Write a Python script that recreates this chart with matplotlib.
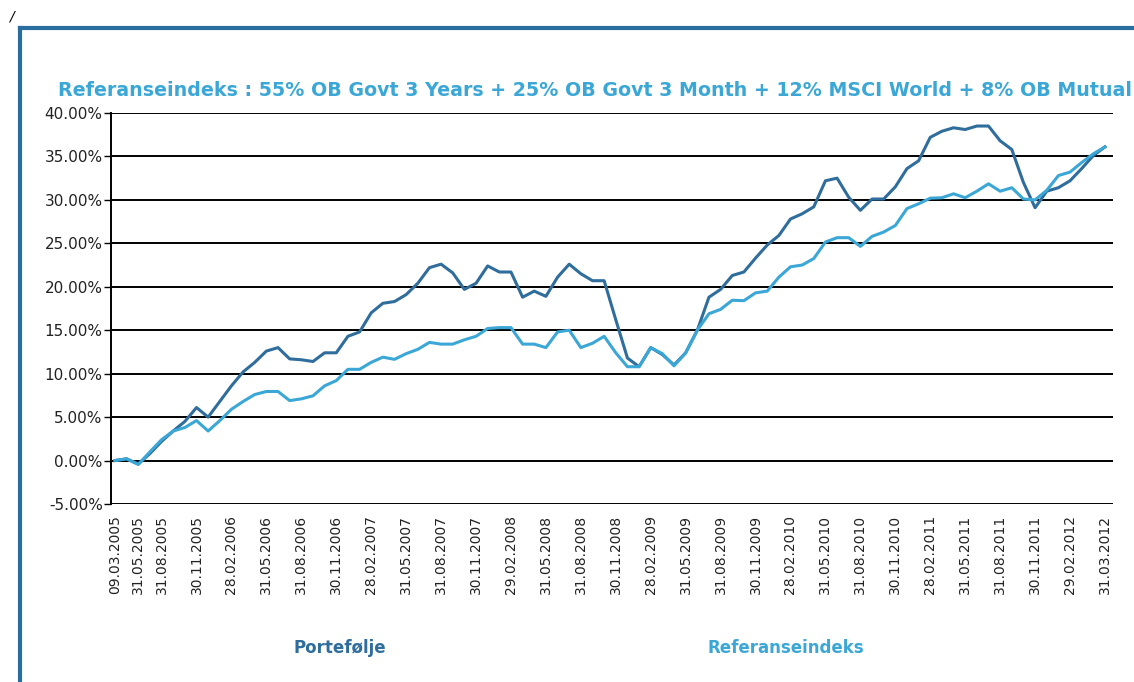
import matplotlib.pyplot as plt
from matplotlib.lines import Line2D

# Avkastning i prosent, ett punkt per observasjon
portefolje = [0.0, 0.2, -0.4, 0.8, 2.2, 3.4, 4.5, 6.1, 5.0, 6.8,
              8.6, 10.2, 11.3, 12.6, 13.0, 11.7, 11.6, 11.4, 12.4, 12.4,
              14.3, 14.8, 17.0, 18.1, 18.3, 19.1, 20.4, 22.2, 22.6, 21.6,
              19.7, 20.4, 22.4, 21.7, 21.7, 18.8, 19.5, 18.9, 21.1, 22.6,
              21.5, 20.7, 20.7, 16.2, 11.8, 10.8, 13.0, 12.2, 11.0, 12.4,
              15.0, 18.8, 19.7, 21.3, 21.7, 23.3, 24.8, 25.9, 27.8, 28.4,
              29.2, 32.2, 32.5, 30.3, 28.8, 30.1, 30.1, 31.5, 33.6, 34.5,
              37.2, 37.9, 38.3, 38.1, 38.5, 38.5, 36.8, 35.8, 32.0, 29.1,
              31.0, 31.4, 32.2, 33.6, 35.1, 36.1]
referanse = [0.0, 0.2, -0.45, 1.0, 2.4, 3.4, 3.8, 4.6, 3.4, 4.6,
             5.9, 6.8, 7.6, 7.95, 7.95, 6.9, 7.1, 7.45, 8.6, 9.2,
             10.5, 10.5, 11.3, 11.9, 11.65, 12.3, 12.8, 13.6, 13.4, 13.4,
             13.9, 14.3, 15.2, 15.3, 15.3, 13.4, 13.4, 13.0, 14.8, 15.0,
             13.0, 13.5, 14.3, 12.4, 10.8, 10.8, 13.0, 12.3, 10.9, 12.4,
             15.0, 16.9, 17.4, 18.45, 18.4, 19.3, 19.5, 21.1, 22.3, 22.5,
             23.25, 25.15, 25.65, 25.65, 24.65, 25.8, 26.3, 27.05, 29.0, 29.55,
             30.2, 30.25, 30.7, 30.25, 31.0, 31.85, 31.0, 31.4, 30.1, 30.0,
             31.1, 32.8, 33.2, 34.3, 35.3, 36.1]

# datoetiketter og hvilken observasjon de hører til
dato_idx = [0, 2, 4, 7, 10, 13, 16, 19, 22, 25, 28, 31, 34, 37, 40, 43, 46, 49,
            52, 55, 58, 61, 64, 67, 70, 73, 76, 79, 82, 85]
dato_tekst = ['09.03.2005', '31.05.2005', '31.08.2005', '30.11.2005',
              '28.02.2006', '31.05.2006', '31.08.2006', '30.11.2006',
              '28.02.2007', '31.05.2007', '31.08.2007', '30.11.2007',
              '29.02.2008', '31.05.2008', '31.08.2008', '30.11.2008',
              '28.02.2009', '31.05.2009', '31.08.2009', '30.11.2009',
              '28.02.2010', '31.05.2010', '31.08.2010', '30.11.2010',
              '28.02.2011', '31.05.2011', '31.08.2011', '30.11.2011',
              '29.02.2012', '31.03.2012']
y_ticks = [-5, 0, 5, 10, 15, 20, 25, 30, 35, 40]

mork = '#2f6d9c'
lys = '#3ba7d6'

plt.rcParams['font.family'] = ['DejaVu Sans']

fig = plt.figure(figsize=(11.34, 6.82), dpi=100)
W, H = 1134, 682
ax = fig.add_axes([111 / W, 1 - 504 / H, (1113 - 111) / W, (504 - 113) / H])

x = list(range(len(portefolje)))
ax.plot(x, portefolje, color=mork, linewidth=2.2, zorder=3)
ax.plot(x, referanse, color=lys, linewidth=2.2, zorder=3)

ax.set_ylim(-5, 40)
ax.set_xlim(-0.34, 85.69)
ax.set_yticks(y_ticks)
ax.set_yticklabels(['%.2f%%' % v for v in y_ticks], fontsize=11, color='#222222')
for v in y_ticks:
    ax.axhline(v, color='black', linewidth=1.4, zorder=1)

ax.set_xticks(dato_idx)
ax.set_xticklabels(dato_tekst, rotation=90, fontsize=10, color='#222222')
ax.tick_params(axis='x', length=0, pad=8)
ax.tick_params(axis='y', length=5, width=1, pad=1)

for s in ['top', 'right', 'bottom']:
    ax.spines[s].set_visible(False)
ax.spines['left'].set_linewidth(1.4)

fig.text(58 / W, 1 - 90 / H,
         'Referanseindeks : 55% OB Govt 3 Years + 25% OB Govt 3 Month + 12% MSCI World + 8% OB Mutual',
         color=lys, fontsize=13.7, fontweight='bold', va='center', ha='left')

fig.text(340 / W, 1 - 648 / H, 'Portefølje', color=mork, fontsize=12,
         fontweight='bold', ha='center', va='center')
fig.text(786 / W, 1 - 648 / H, 'Referanseindeks', color=lys, fontsize=12,
         fontweight='bold', ha='center', va='center')

# blå ramme rundt diagrammet
fig.add_artist(Line2D([20 / W, 1.0], [1 - 28 / H, 1 - 28 / H], color='#2a6ea0',
                      linewidth=3, transform=fig.transFigure))
fig.add_artist(Line2D([20 / W, 20 / W], [1 - 28 / H, 0.0], color='#2a6ea0',
                      linewidth=3, transform=fig.transFigure))
fig.text(11 / W, 1 - 17 / H, '/', fontsize=10, ha='center', va='center',
         style='italic')

fig.savefig('out.png', dpi=100)
